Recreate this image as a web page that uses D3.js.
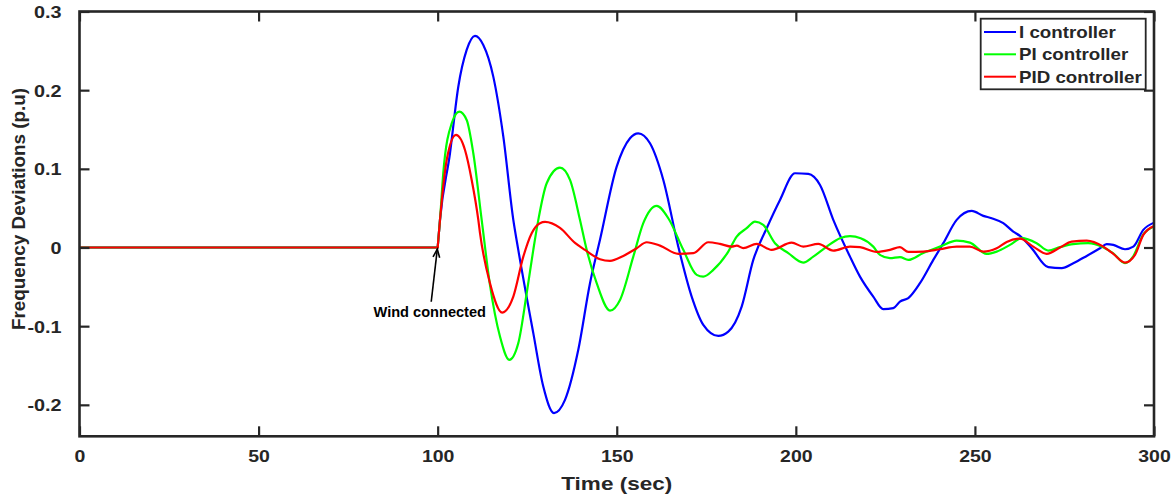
<!DOCTYPE html>
<html>
<head>
<meta charset="utf-8">
<script src="https://cdn.jsdelivr.net/npm/d3@7"></script>
<style>
  html, body { margin: 0; padding: 0; background: #fff; }
  svg { display: block; }
  text { font-family: "Liberation Sans", Arial, sans-serif; font-weight: bold; fill: #262626; }
</style>
</head>
<body>
<svg id="chart" width="1176" height="498"></svg>
<script>
// Frequency deviation after wind connection, three controller types
const xTicks = [0, 50, 100, 150, 200, 250, 300];
const yTicks = [-0.2, -0.1, 0, 0.1, 0.2, 0.3];
const yTickLabels = ["-0.2", "-0.1", "0", "0.1", "0.2", "0.3"];
const seriesNames = ["I controller", "PI controller", "PID controller"];
const seriesColors = ["#0000ff", "#00ff00", "#ff0000"];
const connectTime = 100;

// I controller
const tI = [0, 100, 100.65, 103.44, 105.76, 108.1, 110.42, 112.74, 115.53, 118.33, 121.12, 122.51, 126.7, 129.49, 132.48, 135.55, 139.26, 142.53, 145.32, 149.98, 153.7, 156.01, 159.28, 163.0, 167.18, 170.92, 174.16, 178.35, 181.14, 184.88, 188.12, 191.86, 195.58, 199.77, 203.48, 206.75, 210.46, 215.12, 217.91, 221.62, 224.42, 227.21, 229.07, 231.4, 234.66, 238.38, 241.17, 244.91, 249.1, 252.34, 254.68, 257.92, 260.71, 262.58, 265.85, 270.49, 274.23, 277.47, 281.21, 284.92, 286.79, 288.64, 291.9, 294.22, 297.01, 300];
const vI = [0, 0, 0.0351, 0.1198, 0.2044, 0.2511, 0.2689, 0.2574, 0.2172, 0.1409, 0.0351, -0.003, -0.1089, -0.1767, -0.2105, -0.1937, -0.1301, -0.0454, 0.0097, 0.1028, 0.1389, 0.1452, 0.1325, 0.0859, 0.0011, -0.0624, -0.0983, -0.1123, -0.1069, -0.0751, -0.0158, 0.0245, 0.0605, 0.0944, 0.0935, 0.0795, 0.0351, -0.0116, -0.037, -0.0624, -0.0784, -0.0771, -0.0687, -0.0644, -0.0454, -0.0158, 0.0055, 0.0351, 0.0465, 0.0402, 0.0372, 0.0309, 0.0202, 0.0147, -0.0009, -0.025, -0.0263, -0.02, -0.0107, -0.0009, 0.0042, 0.0033, -0.0022, 0.0011, 0.0224, 0.0316];

// PI controller
const tPI = [0, 100, 100.65, 101.57, 103.92, 106.04, 108.1, 109.95, 112.29, 114.6, 117.4, 120.0, 122.51, 124.86, 126.7, 128.1, 130.44, 134.15, 136.95, 139.74, 141.61, 144.4, 148.11, 150.91, 154.62, 157.41, 161.15, 164.39, 168.58, 172.32, 174.16, 176.95, 181.14, 183.49, 186.28, 188.6, 190.91, 194.18, 197.89, 202.08, 204.87, 208.61, 212.33, 215.12, 218.1, 221.62, 223.5, 226.28, 229.07, 231.4, 235.58, 240.23, 244.91, 248.6, 253.29, 256.07, 259.79, 263.06, 267.23, 270.49, 273.76, 277.39, 281.58, 285.77, 288.55, 291.9, 294.14, 296.93, 300];
const vPI = [0, 0, 0.0351, 0.0950, 0.1579, 0.1727, 0.1621, 0.1198, 0.0351, -0.0475, -0.1132, -0.1428, -0.1216, -0.0581, -0.003, 0.0351, 0.0817, 0.1015, 0.0859, 0.0351, -0.003, -0.0454, -0.0802, -0.0666, -0.0116, 0.0309, 0.0529, 0.0372, -0.003, -0.0348, -0.037, -0.0285, -0.0052, 0.0139, 0.0245, 0.0329, 0.0287, 0.0055, -0.0072, -0.0192, -0.0116, 0.0011, 0.0118, 0.0144, 0.0118, 0.0011, -0.0094, -0.0136, -0.0123, -0.0158, -0.0069, 0.0011, 0.0088, 0.0062, -0.0081, -0.0052, 0.0033, 0.0118, 0.0055, -0.0039, 0.0004, 0.0042, 0.0055, 0.0004, -0.0072, -0.0199, -0.0116, 0.016, 0.0266];

// PID controller
const tPID = [0, 100, 100.65, 102.52, 105.12, 107.63, 109.5, 111.35, 111.82, 114.61, 118.04, 121.12, 123.91, 126.25, 128.57, 129.97, 134.15, 138.34, 141.13, 145.32, 148.11, 151.83, 155.57, 158.36, 162.07, 167.18, 171.37, 175.56, 178.82, 182.09, 183.49, 185.33, 189.07, 193.26, 198.84, 202.08, 206.27, 210.46, 215.12, 217.91, 222.57, 226.28, 229.07, 231.4, 235.58, 240.23, 244.91, 248.6, 252.34, 256.07, 258.87, 262.58, 266.3, 270.04, 273.76, 277.02, 281.21, 285.85, 288.64, 291.9, 294.7, 297.01, 300];
const vPID = [0, 0, 0.0351, 0.1113, 0.1431, 0.124, 0.0859, 0.0351, 0.0182, -0.0454, -0.0827, -0.0624, -0.0116, 0.0182, 0.0309, 0.0325, 0.0249, 0.0058, -0.003, -0.0149, -0.017, -0.0107, -0.0009, 0.0067, 0.0024, -0.0081, -0.0072, 0.0067, 0.0046, 0.0011, 0.0024, -0.0009, 0.0046, -0.003, 0.0062, 0.0011, 0.0046, -0.0039, 0.0011, 0.0004, -0.0056, -0.003, 0.0004, -0.0056, -0.0052, -0.0022, 0.0011, 0.0011, -0.0052, -0.0009, 0.0071, 0.0113, 0.0011, -0.0081, -0.0001, 0.0075, 0.0088, 0.0011, -0.0081, -0.0192, -0.0094, 0.016, 0.0274];

// Annotation: arrow from label to the connection instant
const annotationText = "Wind connected";
const arrowTail = [98.2, -0.069];
const arrowTip = [99.9, -0.002];

const svg = d3.select("#chart");
const plotLeft = 79.5, plotRight = 1154, plotTop = 11.5, plotBottom = 436.3;

const x = d3.scaleLinear().domain([0, 300]).range([plotLeft, plotRight]);
const y = d3.scaleLinear().domain([-0.24, 0.3]).range([plotBottom, plotTop]);

// Horizontal text in this figure is drawn a little wider than the font's natural width
function widen(sel, k) {
  sel.each(function () {
    const w = this.getComputedTextLength();
    d3.select(this).attr("textLength", w * k).attr("lengthAdjust", "spacingAndGlyphs");
  });
}

// Data lines (clipped to the axes box)
svg.append("clipPath").attr("id", "plotClip")
  .append("rect").attr("x", plotLeft).attr("y", plotTop)
  .attr("width", plotRight - plotLeft).attr("height", plotBottom - plotTop);

const series = [
  { t: tI, v: vI },
  { t: tPI, v: vPI },
  { t: tPID, v: vPID }
];

// Straight segments while disconnected, smooth response afterwards
const flatLine = d3.line().x(d => x(d[0])).y(d => y(d[1]));
const responseLine = d3.line()
  .x(d => x(d[0]))
  .y(d => y(d[1]))
  .curve(d3.curveMonotoneX);

const lines = svg.append("g").attr("clip-path", "url(#plotClip)");
series.forEach((s, i) => {
  const pts = s.t.map((t, j) => [t, s.v[j]]);
  const before = pts.filter(p => p[0] <= connectTime);
  const after = pts.filter(p => p[0] >= connectTime);
  const g = lines.append("g")
    .attr("fill", "none")
    .attr("stroke", seriesColors[i])
    .attr("stroke-width", 2.2)
    .attr("stroke-linejoin", "round")
    .attr("stroke-linecap", "round");
  g.append("path").datum(before).attr("d", flatLine);
  g.append("path").datum(after).attr("d", responseLine);
});

// Axes box with inward ticks on all four sides
const axisColor = "#262626";
const tickLen = 10;
const axes = svg.append("g");

const bottomAxis = d3.axisBottom(x).tickValues(xTicks).tickSize(-tickLen).tickPadding(14).tickFormat(d3.format("d"));
const topAxis = d3.axisTop(x).tickValues(xTicks).tickSize(-tickLen).tickFormat("");
const leftAxis = d3.axisLeft(y).tickValues(yTicks).tickSize(-tickLen).tickPadding(18).tickFormat((d, i) => yTickLabels[i]);
const rightAxis = d3.axisRight(y).tickValues(yTicks).tickSize(-tickLen).tickFormat("");

const gB = axes.append("g").attr("transform", `translate(0,${plotBottom})`).call(bottomAxis);
const gT = axes.append("g").attr("transform", `translate(0,${plotTop})`).call(topAxis);
const gL = axes.append("g").attr("transform", `translate(${plotLeft},0)`).call(leftAxis);
const gR = axes.append("g").attr("transform", `translate(${plotRight},0)`).call(rightAxis);

[gB, gT, gL, gR].forEach(g => {
  g.select(".domain").remove();
  g.selectAll(".tick line").attr("stroke", axisColor).attr("stroke-width", 2.2);
  g.selectAll(".tick text")
    .attr("fill", axisColor)
    .style("font-size", "16.5px")
    .style("font-family", "'Liberation Sans', Arial, sans-serif")
    .style("font-weight", "bold");
});
gB.selectAll(".tick text").attr("dy", "0.71em");
gL.selectAll(".tick text").attr("dy", "0.36em");
widen(gB.selectAll(".tick text"), 1.18);
widen(gL.selectAll(".tick text"), 1.2);

axes.append("rect")
  .attr("x", plotLeft).attr("y", plotTop)
  .attr("width", plotRight - plotLeft).attr("height", plotBottom - plotTop)
  .attr("fill", "none").attr("stroke", axisColor).attr("stroke-width", 2.6);

// Axis titles
svg.append("text")
  .attr("x", (plotLeft + plotRight) / 2).attr("y", 490)
  .attr("text-anchor", "middle")
  .style("font-size", "18.5px")
  .attr("textLength", 111).attr("lengthAdjust", "spacingAndGlyphs")
  .text("Time (sec)");

svg.append("text")
  .attr("transform", "translate(25,209) rotate(-90)")
  .attr("text-anchor", "middle")
  .style("font-size", "18.5px")
  .attr("textLength", 242).attr("lengthAdjust", "spacingAndGlyphs")
  .text("Frequency Deviations (p.u)");

// Annotation
const ax0 = x(arrowTail[0]), ay0 = y(arrowTail[1]);
const ax1 = x(arrowTip[0]), ay1 = y(arrowTip[1]);
svg.append("line")
  .attr("x1", ax0).attr("y1", ay0).attr("x2", ax1).attr("y2", ay1)
  .attr("stroke", "#000").attr("stroke-width", 1.6);
const ang = Math.atan2(ay1 - ay0, ax1 - ax0);
const headLen = 9, headSpread = 0.38;
svg.append("path")
  .attr("d", `M${ax1 - headLen * Math.cos(ang - headSpread)},${ay1 - headLen * Math.sin(ang - headSpread)}L${ax1},${ay1}L${ax1 - headLen * Math.cos(ang + headSpread)},${ay1 - headLen * Math.sin(ang + headSpread)}`)
  .attr("fill", "none").attr("stroke", "#000").attr("stroke-width", 1.6);

svg.append("text")
  .attr("x", 373.5).attr("y", 316.5)
  .style("font-size", "14px")
  .style("fill", "#000")
  .attr("textLength", 112.5).attr("lengthAdjust", "spacingAndGlyphs")
  .text(annotationText);

// Legend
const legend = svg.append("g");
legend.append("rect")
  .attr("x", 980.7).attr("y", 18.7)
  .attr("width", 165).attr("height", 70.6)
  .attr("fill", "#fff").attr("stroke", axisColor).attr("stroke-width", 1.8);

const rowY = [32, 54.3, 76.7];
seriesNames.forEach((name, i) => {
  legend.append("line")
    .attr("x1", 984).attr("x2", 1016)
    .attr("y1", rowY[i]).attr("y2", rowY[i])
    .attr("stroke", seriesColors[i]).attr("stroke-width", 2);
  legend.append("text")
    .attr("x", 1019).attr("y", rowY[i] + 6)
    .style("font-size", "16.3px")
    .attr("class", "legend-label")
    .text(name);
});
widen(legend.selectAll("text"), 1.15);
</script>
</body>
</html>
